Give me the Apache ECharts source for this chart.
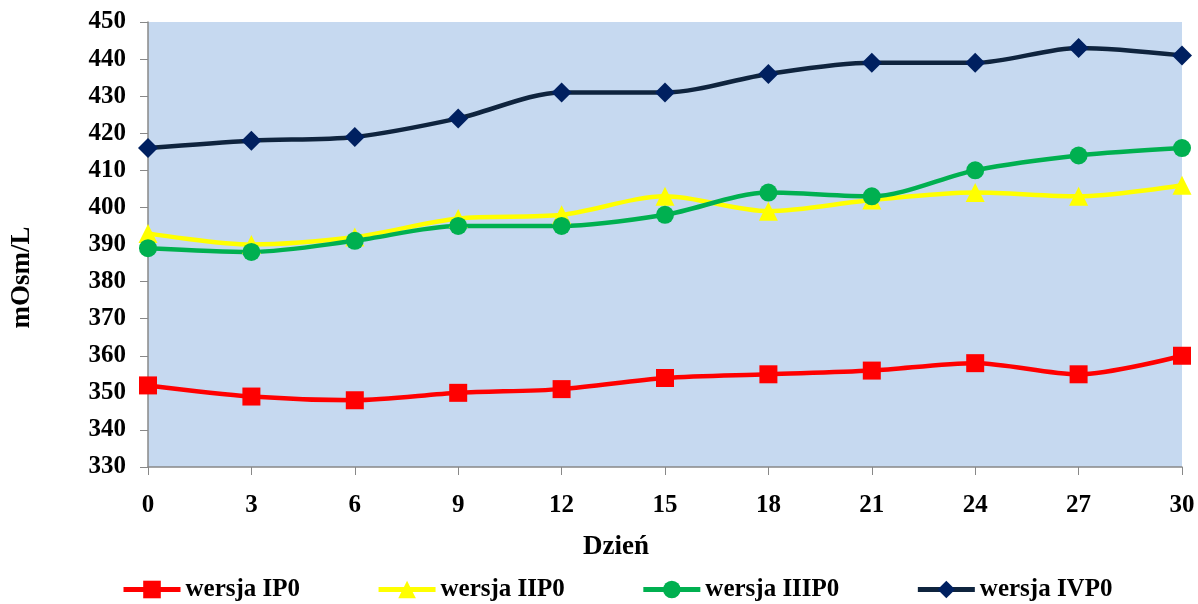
<!DOCTYPE html>
<html>
<head>
<meta charset="utf-8">
<script src="https://cdn.jsdelivr.net/npm/echarts@6/dist/echarts.min.js"></script>
<style>html,body{margin:0;padding:0;background:#fff}#c{width:1198px;height:604px}</style>
</head>
<body>
<div id="c"></div>
<script>
const categories = ['0','3','6','9','12','15','18','21','24','27','30'];
const seriesNames = ['wersja IP0','wersja IIP0','wersja IIIP0','wersja IVP0'];
const wersjaIP0 = [352, 349, 348, 350, 351, 354, 355, 356, 358, 355, 360];
const wersjaIIP0 = [393, 390, 392, 397, 398, 403, 399, 402, 404, 403, 406];
const wersjaIIIP0 = [389, 388, 391, 395, 395, 398, 404, 403, 410, 414, 416];
const wersjaIVP0 = [416, 418, 419, 424, 431, 431, 436, 439, 439, 443, 441];
const yTicks = {min: 330, max: 450, interval: 10};

const font = 'Liberation Serif';
const chart = echarts.init(document.getElementById('c'));
function mk(name, data, color, lineColor, symbol, size) {
  return {
    name, type: 'line', data, smooth: 0.3, symbol, symbolSize: size,
    itemStyle: {color: color},
    lineStyle: {color: lineColor, width: 4.5},
    z: 3
  };
}
chart.setOption({
  animation: false,
  grid: {left: 148, right: 16, top: 22, bottom: 137, show: true, backgroundColor: '#C6D9F0', borderWidth: 0},
  legend: {
    top: 572, left: 116, itemWidth: 57, itemHeight: 22, itemGap: 76,
    lineStyle: {width: 5},
    textStyle: {fontFamily: font, fontWeight: 'bold', fontSize: 25, color: '#000'},
    data: seriesNames
  },
  xAxis: {
    type: 'category', data: categories, boundaryGap: false,
    name: 'Dzień', nameLocation: 'middle', nameGap: 67,
    nameTextStyle: {fontFamily: font, fontWeight: 'bold', fontSize: 27, color: '#000', padding: [0, 98, 0, 0]},
    axisLine: {lineStyle: {color: '#888', width: 1.5}},
    axisTick: {show: true, length: 8, lineStyle: {color: '#888'}},
    axisLabel: {fontFamily: font, fontWeight: 'bold', fontSize: 25, color: '#000', margin: 26},
    splitLine: {show: false}
  },
  yAxis: {
    type: 'value', min: yTicks.min, max: yTicks.max, interval: yTicks.interval,
    name: 'mOsm/L', nameLocation: 'middle', nameGap: 112, nameRotate: 90,
    nameTextStyle: {fontFamily: font, fontWeight: 'bold', fontSize: 27, color: '#000', padding: [0, 66, 0, 0]},
    axisLine: {show: true, lineStyle: {color: '#888', width: 1.5}},
    axisTick: {show: true, length: 8, lineStyle: {color: '#888'}},
    axisLabel: {fontFamily: font, fontWeight: 'bold', fontSize: 25, color: '#000', margin: 22},
    splitLine: {show: false}
  },
  series: [
    mk(seriesNames[0], wersjaIP0, '#FF0000', '#FF0000', 'rect', 18),
    mk(seriesNames[1], wersjaIIP0, '#FFFF00', '#FFFF00', 'triangle', 19),
    mk(seriesNames[2], wersjaIIIP0, '#00B050', '#00B050', 'circle', 18),
    mk(seriesNames[3], wersjaIVP0, '#002060', '#0F243E', 'diamond', 20)
  ]
});
</script>
</body>
</html>
